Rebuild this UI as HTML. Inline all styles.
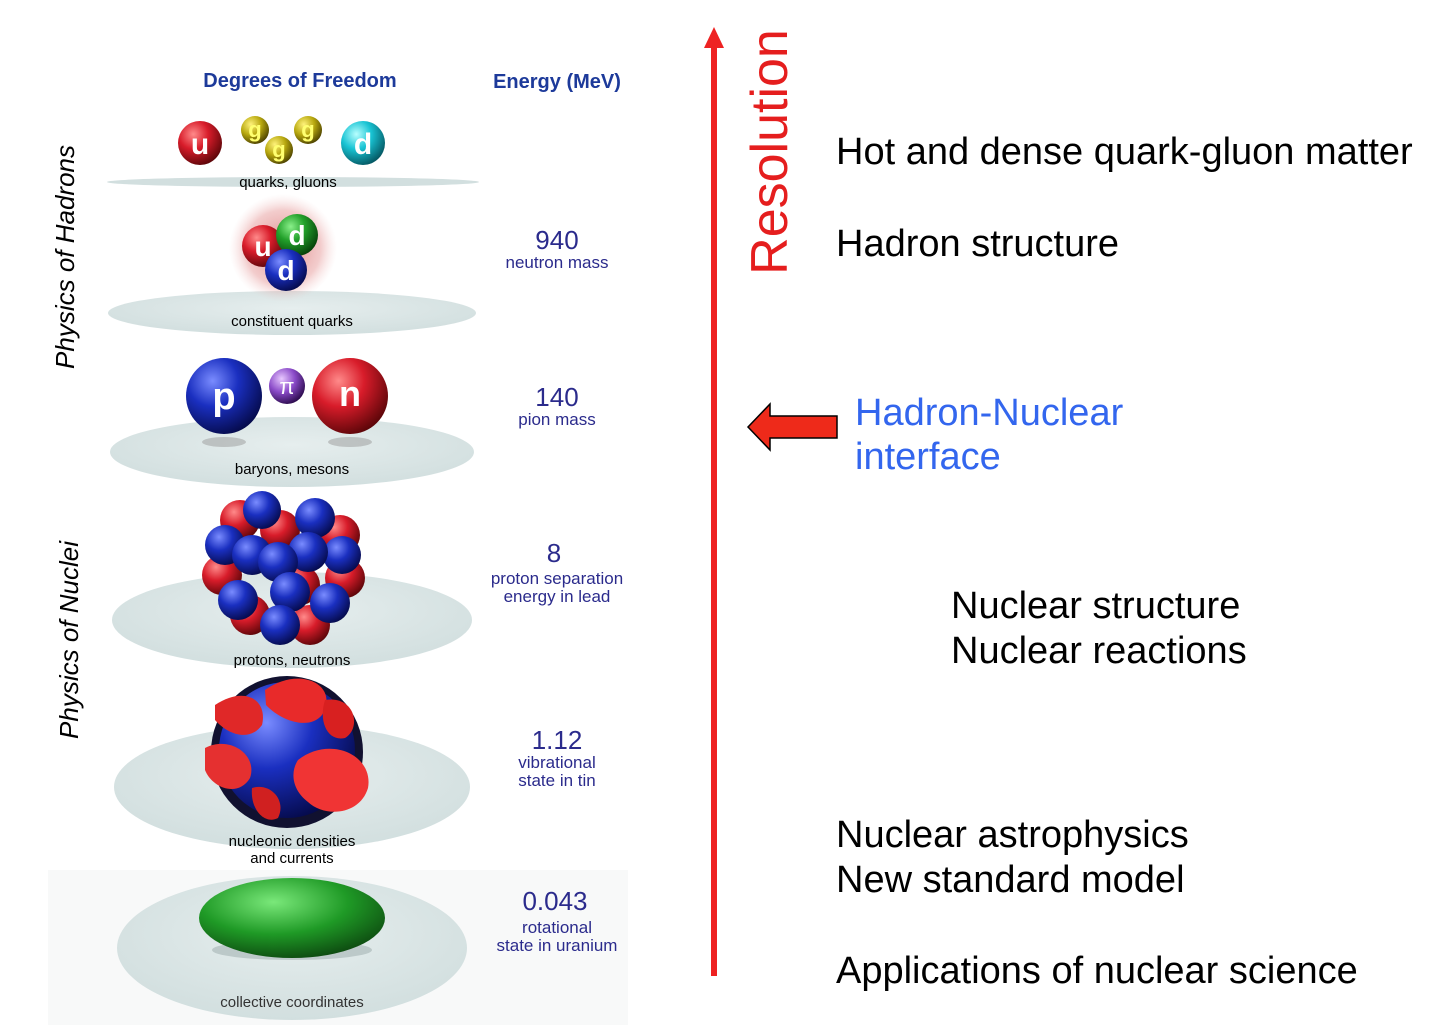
<!DOCTYPE html>
<html><head><meta charset="utf-8"><style>
body{margin:0;background:#fff;width:1456px;height:1028px;overflow:hidden}
svg{display:block}
text{font-family:"Liberation Sans",sans-serif}
</style></head><body>
<svg width="1456" height="1028" viewBox="0 0 1456 1028">
<defs>
<radialGradient id="gr" cx="0.35" cy="0.3" r="0.75"><stop offset="0" stop-color="#ff8a8a"/><stop offset="0.45" stop-color="#d81c2a"/><stop offset="1" stop-color="#5a0508"/></radialGradient>
<radialGradient id="gb" cx="0.35" cy="0.3" r="0.75"><stop offset="0" stop-color="#7a8cff"/><stop offset="0.45" stop-color="#1a2fc0"/><stop offset="1" stop-color="#050a4a"/></radialGradient>
<radialGradient id="gy" cx="0.35" cy="0.3" r="0.75"><stop offset="0" stop-color="#fff27a"/><stop offset="0.5" stop-color="#b8a80f"/><stop offset="1" stop-color="#4a4000"/></radialGradient>
<radialGradient id="gc" cx="0.35" cy="0.3" r="0.75"><stop offset="0" stop-color="#b8ffff"/><stop offset="0.45" stop-color="#19c4d4"/><stop offset="1" stop-color="#045560"/></radialGradient>
<radialGradient id="gg" cx="0.35" cy="0.3" r="0.75"><stop offset="0" stop-color="#8af08a"/><stop offset="0.45" stop-color="#22a02a"/><stop offset="1" stop-color="#053f08"/></radialGradient>
<radialGradient id="gp" cx="0.35" cy="0.3" r="0.75"><stop offset="0" stop-color="#e8c8ff"/><stop offset="0.5" stop-color="#8a4ac8"/><stop offset="1" stop-color="#2a0a4a"/></radialGradient>
<radialGradient id="glow" cx="0.5" cy="0.5" r="0.5"><stop offset="0" stop-color="#c83030" stop-opacity="0.6"/><stop offset="0.7" stop-color="#e08080" stop-opacity="0.4"/><stop offset="1" stop-color="#f0c0c0" stop-opacity="0"/></radialGradient>
<radialGradient id="ggreen" cx="0.4" cy="0.3" r="0.8"><stop offset="0" stop-color="#7ae87a"/><stop offset="0.5" stop-color="#1f9a26"/><stop offset="1" stop-color="#0a3a0c"/></radialGradient>
<radialGradient id="disc" cx="0.5" cy="0.4" r="0.6"><stop offset="0" stop-color="#e6eeee"/><stop offset="1" stop-color="#d2dfdf"/></radialGradient>
</defs>

<rect x="48" y="870" width="580" height="155" fill="#f8f9f9"/>

<text x="300" y="87" text-anchor="middle" font-size="20" font-weight="bold" fill="#1d3a9a">Degrees of Freedom</text>
<text x="557" y="88" text-anchor="middle" font-size="20" font-weight="bold" fill="#1d3a9a">Energy (MeV)</text>

<text transform="translate(74,257) rotate(-90)" text-anchor="middle" font-size="26" font-style="italic" fill="#000">Physics of Hadrons</text>
<text transform="translate(78,640) rotate(-90)" text-anchor="middle" font-size="26" font-style="italic" fill="#000">Physics of Nuclei</text>

<ellipse cx="293" cy="182" rx="186" ry="5" fill="#d2dfdf"/>
<ellipse cx="292" cy="313" rx="184" ry="22" fill="url(#disc)"/>
<ellipse cx="292" cy="452" rx="182" ry="35" fill="url(#disc)"/>
<ellipse cx="292" cy="620" rx="180" ry="48" fill="url(#disc)"/>
<ellipse cx="292" cy="787" rx="178" ry="62" fill="url(#disc)"/>
<ellipse cx="292" cy="948" rx="175" ry="72" fill="url(#disc)"/>

<g font-weight="bold" fill="#fff" text-anchor="middle">
<circle cx="200" cy="143" r="22" fill="url(#gr)"/><text x="200" y="154" font-size="30">u</text>
<circle cx="255" cy="130" r="14" fill="url(#gy)"/><text x="255" y="137" font-size="22" fill="#ffff70">g</text>
<circle cx="279" cy="150" r="14" fill="url(#gy)"/><text x="279" y="157" font-size="22" fill="#ffff70">g</text>
<circle cx="308" cy="130" r="14" fill="url(#gy)"/><text x="308" y="137" font-size="22" fill="#ffff70">g</text>
<circle cx="363" cy="143" r="22" fill="url(#gc)"/><text x="363" y="154" font-size="30">d</text>
</g>
<text x="288" y="187" text-anchor="middle" font-size="15">quarks, gluons</text>

<g font-weight="bold" fill="#fff" text-anchor="middle">
<circle cx="283" cy="248" r="54" fill="url(#glow)"/>
<circle cx="263" cy="246" r="21" fill="url(#gr)"/><text x="263" y="256" font-size="28">u</text>
<circle cx="297" cy="235" r="21" fill="url(#gg)"/><text x="297" y="245" font-size="28">d</text>
<circle cx="286" cy="270" r="21" fill="url(#gb)"/><text x="286" y="280" font-size="28">d</text>
</g>
<text x="292" y="326" text-anchor="middle" font-size="15">constituent quarks</text>

<g font-weight="bold" fill="#fff" text-anchor="middle">
<ellipse cx="224" cy="442" rx="22" ry="5" fill="#999" opacity="0.5"/>
<ellipse cx="350" cy="442" rx="22" ry="5" fill="#999" opacity="0.5"/>
<circle cx="224" cy="396" r="38" fill="url(#gb)"/><text x="224" y="409" font-size="38">p</text>
<circle cx="287" cy="386" r="18" fill="url(#gp)"/><text x="287" y="394" font-size="22" font-weight="normal">π</text>
<circle cx="350" cy="396" r="38" fill="url(#gr)"/><text x="350" y="406" font-size="36">n</text>
</g>
<text x="292" y="474" text-anchor="middle" font-size="15">baryons, mesons</text>

<g>
<circle cx="240" cy="520" r="20" fill="url(#gr)"/><circle cx="340" cy="535" r="20" fill="url(#gr)"/>
<circle cx="222" cy="575" r="20" fill="url(#gr)"/><circle cx="345" cy="578" r="20" fill="url(#gr)"/>
<circle cx="310" cy="625" r="20" fill="url(#gr)"/><circle cx="250" cy="615" r="20" fill="url(#gr)"/>
<circle cx="280" cy="530" r="20" fill="url(#gr)"/><circle cx="300" cy="585" r="20" fill="url(#gr)"/>
<circle cx="262" cy="510" r="19" fill="url(#gb)"/><circle cx="315" cy="518" r="20" fill="url(#gb)"/>
<circle cx="225" cy="545" r="20" fill="url(#gb)"/><circle cx="342" cy="555" r="19" fill="url(#gb)"/>
<circle cx="252" cy="555" r="20" fill="url(#gb)"/><circle cx="308" cy="552" r="20" fill="url(#gb)"/>
<circle cx="278" cy="562" r="20" fill="url(#gb)"/><circle cx="238" cy="600" r="20" fill="url(#gb)"/>
<circle cx="290" cy="592" r="20" fill="url(#gb)"/><circle cx="330" cy="603" r="20" fill="url(#gb)"/>
<circle cx="280" cy="625" r="20" fill="url(#gb)"/>
</g>
<text x="292" y="665" text-anchor="middle" font-size="15">protons, neutrons</text>

<g>
<circle cx="287" cy="752" r="76" fill="#111130"/>
<circle cx="287" cy="750" r="68" fill="url(#gb)"/>
<path d="M215,705 C245,685 268,700 262,725 C250,742 228,735 215,720 Z" fill="#e02828"/>
<path d="M265,690 C300,665 340,685 322,715 C310,730 282,722 266,705 Z" fill="#e82a2a"/>
<path d="M325,700 C355,695 362,728 345,738 C328,742 318,722 325,700 Z" fill="#d82020"/>
<path d="M205,748 C230,735 258,755 250,778 C238,798 212,788 205,770 Z" fill="#e53030"/>
<path d="M298,760 C330,735 374,755 368,788 C360,815 325,818 308,802 C292,790 290,772 298,760 Z" fill="#f03434"/>
<path d="M252,788 C270,782 287,800 278,818 C265,825 250,810 252,788 Z" fill="#d02020"/>
</g>
<text x="292" y="846" text-anchor="middle" font-size="15">nucleonic densities</text>
<text x="292" y="863" text-anchor="middle" font-size="15">and currents</text>

<ellipse cx="292" cy="950" rx="80" ry="10" fill="#9aa" opacity="0.5"/>
<ellipse cx="292" cy="918" rx="93" ry="40" fill="url(#ggreen)"/>
<text x="292" y="1007" text-anchor="middle" font-size="15" fill="#333">collective coordinates</text>

<g fill="#2b2b8c" text-anchor="middle">
<text x="557" y="249" font-size="26">940</text><text x="557" y="268" font-size="17">neutron mass</text>
<text x="557" y="406" font-size="26">140</text><text x="557" y="425" font-size="17">pion mass</text>
<text x="554" y="562" font-size="26">8</text><text x="557" y="584" font-size="17">proton separation</text><text x="557" y="602" font-size="17">energy in lead</text>
<text x="557" y="749" font-size="26">1.12</text><text x="557" y="768" font-size="17">vibrational</text><text x="557" y="786" font-size="17">state in tin</text>
<text x="555" y="910" font-size="26">0.043</text><text x="557" y="933" font-size="17">rotational</text><text x="557" y="951" font-size="17">state in uranium</text>
</g>

<g>
<rect x="711" y="44" width="6" height="932" fill="#ee2222"/>
<polygon points="714,27 704,48 724,48" fill="#ee2222"/>
</g>
<text transform="translate(787,152) rotate(-90)" text-anchor="middle" font-size="52" fill="#e51e1e">Resolution</text>

<polygon points="748,427 770,404 770,416 837,416 837,438 770,438 770,450" fill="#ee2a1a" stroke="#000" stroke-width="1.5"/>

<g font-size="38" fill="#000">
<text x="836" y="164">Hot and dense quark-gluon matter</text>
<text x="836" y="256">Hadron structure</text>
<text x="855" y="425" fill="#3366ee">Hadron-Nuclear</text>
<text x="855" y="469" fill="#3366ee">interface</text>
<text x="951" y="618">Nuclear structure</text>
<text x="951" y="663">Nuclear reactions</text>
<text x="836" y="847">Nuclear astrophysics</text>
<text x="836" y="892">New standard model</text>
<text x="836" y="983">Applications of nuclear science</text>
</g>
</svg>
</body></html>
